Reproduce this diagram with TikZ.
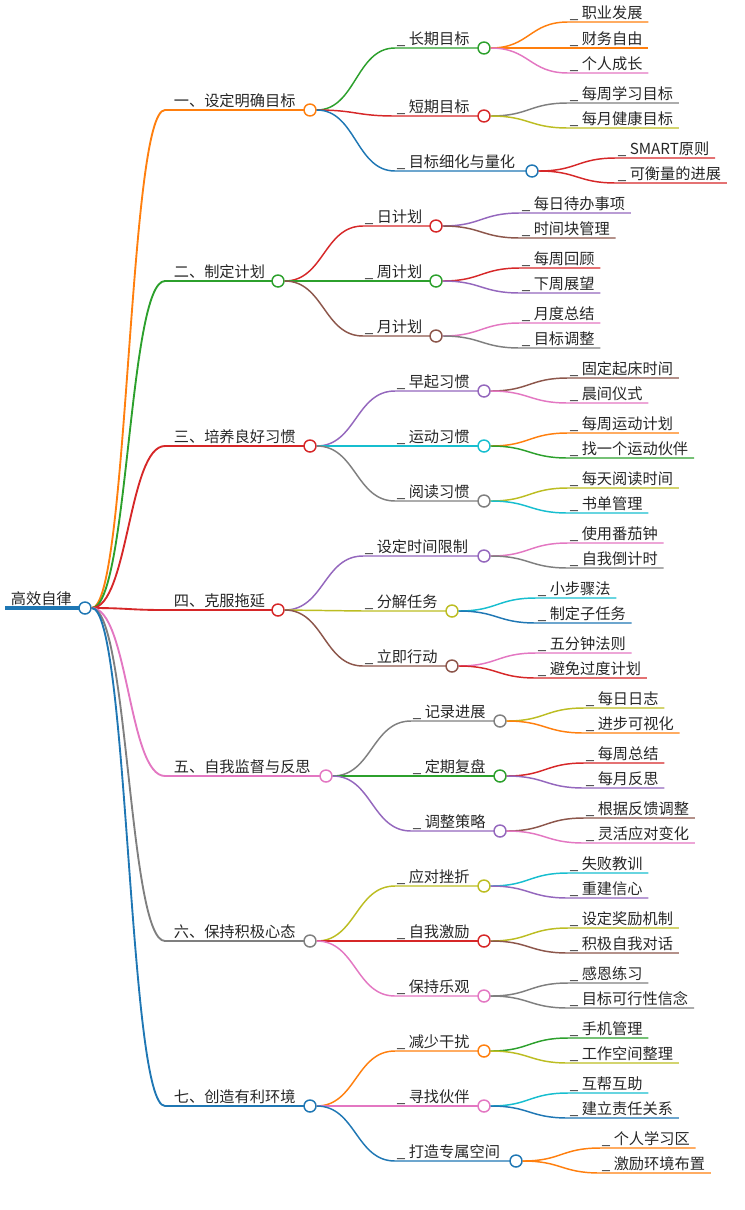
\documentclass[tikz,border=0pt]{standalone}
\usepackage{fontspec}
\setmainfont{Noto Sans CJK SC}
\usetikzlibrary{calc}
\definecolor{cor}{HTML}{FF7F0E}\definecolor{cgr}{HTML}{2CA02C}\definecolor{cre}{HTML}{D62728}
\definecolor{cbl}{HTML}{1F77B4}\definecolor{cpu}{HTML}{9467BD}\definecolor{cbr}{HTML}{8C564B}
\definecolor{cpi}{HTML}{E377C2}\definecolor{cgy}{HTML}{7F7F7F}\definecolor{col}{HTML}{BCBD22}
\definecolor{ccy}{HTML}{17BECF}
\tikzset{txt/.style={inner sep=1.2pt,font=\fontsize{11.4pt}{13pt}\selectfont,text=black!85},
 dot/.style={circle,fill=white,line width=1.1pt,minimum size=9pt,inner sep=0pt},
 edge/.style={line width=1.1pt}}
\newcommand\midnode[7]{%
 \coordinate (#2s) at (#3,#4);
 \coordinate (#2m) at ($(#1.east)!.5!(#2s)$);
 \node[txt,anchor=south west] (#2t) at (#3,#4) {\_ #7};
 \draw[#6,edge] (#1.east) .. controls (#2m |- #1.east) and (#2m |- #2s) .. (#2s) -- (#5,#4);
 \node[dot,draw=#6] (#2) at (#5,#4) {};}
\newcommand\leaf[6]{%
 \coordinate (#2s) at (#3,#4);
 \coordinate (#2m) at ($(#1.east)!.5!(#2s)$);
 \node[txt,anchor=south west] (#2t) at (#3,#4) {\_ #6};
 \draw[#5,edge] (#1.east) .. controls (#2m |- #1.east) and (#2m |- #2s) .. (#2s) -- ($(#2t.south east)+(4,0)$);}
\newcommand\lone[6]{%
 \coordinate (#1s) at (165,#2);
 \coordinate (#1m) at ($(root.east)!.5!(#1s)$);
 \node[txt,anchor=south west] (#1t) at (172,#2) {#6};
 \draw[#4,line width=1.4pt] (root.east) .. controls (#1m |- root.east) and (#1m |- #1s) .. (#1s) -- (#3,#2);
 \node[dot,draw=#5] (#1) at (#3,#2) {};}
\begin{document}
\begin{tikzpicture}[x=0.75pt,y=-0.75pt]
\useasboundingbox (0,0) rectangle (744,1210);
\draw[cbl,line width=2.5pt] (5,608) -- (85,608);
\node[txt,anchor=south west] (roott) at (9,608) {高效自律};
\node[dot,draw=cbl] (root) at (85,608) {};
% level 1
\lone{a}{110}{310}{cor}{cor}{一、设定明确目标}
\lone{b}{281}{278}{cgr}{cgr}{二、制定计划}
\lone{c}{446}{310}{cre}{cre}{三、培养良好习惯}
\lone{d}{610}{278}{cre}{cre}{四、克服拖延}
\lone{e}{776}{326}{cpi}{cpi}{五、自我监督与反思}
\lone{f}{941}{310}{cgy}{cgy}{六、保持积极心态}
\lone{g}{1106}{310}{cbl}{cbl}{七、创造有利环境}
% group 1
\midnode{a}{a1}{395}{48}{484}{cgr}{长期目标}
\midnode{a}{a2}{395}{116}{484}{cre}{短期目标}
\midnode{a}{a3}{395}{171}{532}{cbl}{目标细化与量化}
\leaf{a1}{a11}{568}{22}{cor}{职业发展}
\leaf{a1}{a12}{568}{48}{cor}{财务自由}
\leaf{a1}{a13}{568}{73}{cpi}{个人成长}
\leaf{a2}{a21}{568}{103}{cgy}{每周学习目标}
\leaf{a2}{a22}{568}{128}{col}{每月健康目标}
\leaf{a3}{a31}{616}{158}{cre}{SMART原则}
\leaf{a3}{a32}{616}{183}{cre}{可衡量的进展}
% group 2
\midnode{b}{b1}{363}{226}{436}{cre}{日计划}
\midnode{b}{b2}{363}{281}{436}{cgr}{周计划}
\midnode{b}{b3}{363}{336}{436}{cbr}{月计划}
\leaf{b1}{b11}{520}{213}{cpu}{每日待办事项}
\leaf{b1}{b12}{520}{238}{cbr}{时间块管理}
\leaf{b2}{b21}{520}{268}{cre}{每周回顾}
\leaf{b2}{b22}{520}{293}{cpu}{下周展望}
\leaf{b3}{b31}{520}{323}{cpi}{月度总结}
\leaf{b3}{b32}{520}{348}{cgy}{目标调整}
% group 3
\midnode{c}{c1}{395}{391}{484}{cpu}{早起习惯}
\midnode{c}{c2}{395}{446}{484}{ccy}{运动习惯}
\midnode{c}{c3}{395}{501}{484}{cgy}{阅读习惯}
\leaf{c1}{c11}{568}{378}{cbr}{固定起床时间}
\leaf{c1}{c12}{568}{403}{cpi}{晨间仪式}
\leaf{c2}{c21}{568}{433}{cor}{每周运动计划}
\leaf{c2}{c22}{568}{458}{cgr}{找一个运动伙伴}
\leaf{c3}{c31}{568}{488}{col}{每天阅读时间}
\leaf{c3}{c32}{568}{513}{ccy}{书单管理}
% group 4
\midnode{d}{d1}{363}{556}{484}{cpu}{设定时间限制}
\midnode{d}{d2}{363}{611}{452}{col}{分解任务}
\midnode{d}{d3}{363}{666}{452}{cbr}{立即行动}
\leaf{d1}{d11}{568}{543}{cpi}{使用番茄钟}
\leaf{d1}{d12}{568}{568}{cgy}{自我倒计时}
\leaf{d2}{d21}{536}{598}{ccy}{小步骤法}
\leaf{d2}{d22}{536}{623}{cbl}{制定子任务}
\leaf{d3}{d31}{536}{653}{cpi}{五分钟法则}
\leaf{d3}{d32}{536}{678}{cre}{避免过度计划}
% group 5
\midnode{e}{e1}{411}{721}{500}{cgy}{记录进展}
\midnode{e}{e2}{411}{776}{500}{cgr}{定期复盘}
\midnode{e}{e3}{411}{831}{500}{cpu}{调整策略}
\leaf{e1}{e11}{584}{708}{col}{每日日志}
\leaf{e1}{e12}{584}{733}{cor}{进步可视化}
\leaf{e2}{e21}{584}{763}{cre}{每周总结}
\leaf{e2}{e22}{584}{788}{cpu}{每月反思}
\leaf{e3}{e31}{584}{818}{cbr}{根据反馈调整}
\leaf{e3}{e32}{584}{843}{cpi}{灵活应对变化}
% group 6
\midnode{f}{f1}{395}{886}{484}{col}{应对挫折}
\midnode{f}{f2}{395}{941}{484}{cre}{自我激励}
\midnode{f}{f3}{395}{996}{484}{cpi}{保持乐观}
\leaf{f1}{f11}{568}{873}{ccy}{失败教训}
\leaf{f1}{f12}{568}{898}{cpu}{重建信心}
\leaf{f2}{f21}{568}{928}{col}{设定奖励机制}
\leaf{f2}{f22}{568}{953}{cbr}{积极自我对话}
\leaf{f3}{f31}{568}{983}{cgy}{感恩练习}
\leaf{f3}{f32}{568}{1008}{cgy}{目标可行性信念}
% group 7
\midnode{g}{g1}{395}{1051}{484}{cor}{减少干扰}
\midnode{g}{g2}{395}{1106}{484}{cpi}{寻找伙伴}
\midnode{g}{g3}{395}{1161}{516}{cbl}{打造专属空间}
\leaf{g1}{g11}{568}{1038}{cgr}{手机管理}
\leaf{g1}{g12}{568}{1063}{col}{工作空间整理}
\leaf{g2}{g21}{568}{1093}{ccy}{互帮互助}
\leaf{g2}{g22}{568}{1118}{cbl}{建立责任关系}
\leaf{g3}{g31}{600}{1148}{cor}{个人学习区}
\leaf{g3}{g32}{600}{1173}{cor}{激励环境布置}
\end{tikzpicture}
\end{document}
